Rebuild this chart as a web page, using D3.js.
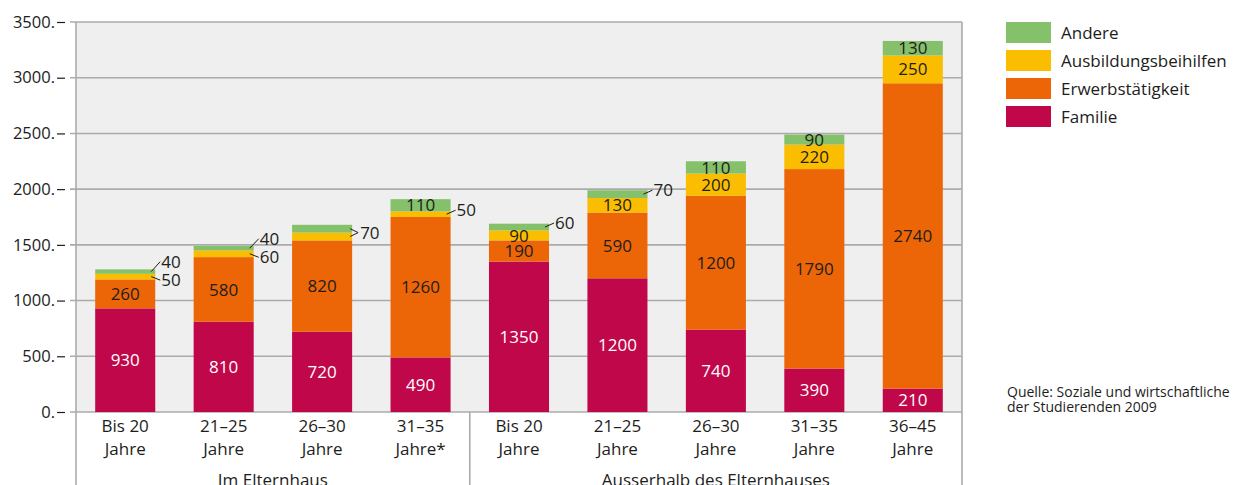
<!DOCTYPE html>
<html><head><meta charset="utf-8">
<script src="https://cdn.jsdelivr.net/npm/d3@7"></script>
<style>html,body{margin:0;padding:0;background:#fff;} svg{display:block;font-family:"Open Sans",sans-serif;}</style>
</head><body>
<svg id="chart" width="1238" height="485"></svg>
<script>
const categories = ["Bis 20|Jahre","21–25|Jahre","26–30|Jahre","31–35|Jahre*","Bis 20|Jahre","21–25|Jahre","26–30|Jahre","31–35|Jahre","36–45|Jahre"];
const groups = ["Im Elternhaus","Ausserhalb des Elternhauses"];
const groupSizes = [4,5];
const seriesNames = ["Familie","Erwerbstätigkeit","Ausbildungsbeihilfen","Andere"];
const familie = [930,810,720,490,1350,1200,740,390,210];
const erwerb = [260,580,820,1260,190,590,1200,1790,2740];
const ausbildung = [50,60,70,50,90,130,200,220,250];
const andere = [40,40,70,110,60,70,110,90,130];
const yTicks = [0,500,1000,1500,2000,2500,3000,3500];
const colors = ["#c0074a","#ec6608","#fbbd00","#85c06a"];
const sourceLines = ["Quelle: Soziale und wirtschaftliche","der Studierenden 2009"];

const svg = d3.select("#chart");
const L = 76, R = 962, T = 22, B = 412;
const x = d3.scaleBand().domain(d3.range(categories.length)).range([L,R]).paddingInner(0.39).paddingOuter(0.195);
const y = d3.scaleLinear().domain([0,3500]).range([B,T]);
const textCol = "#1d1d1b", gridCol = "#ababab";

svg.append("rect").attr("x",L).attr("y",T).attr("width",R-L).attr("height",B-T).attr("fill","#efefef");
// grid
svg.append("g").selectAll("line").data(yTicks).join("line")
  .attr("x1",70).attr("x2",R).attr("y1",d=>y(d)).attr("y2",d=>y(d))
  .attr("stroke",gridCol).attr("stroke-width",1.6);
// tick labels
svg.append("g").selectAll("text").data(yTicks).join("text")
  .attr("x",55).attr("y",d=>y(d)).attr("dy","0.35em").attr("text-anchor","end")
  .attr("font-size",16.5).attr("fill",textCol).text(d=>d+".");
svg.append("g").selectAll("line").data(yTicks).join("line")
  .attr("x1",57).attr("x2",65).attr("y1",d=>y(d)+0.5).attr("y2",d=>y(d)+0.5)
  .attr("stroke",textCol).attr("stroke-width",1.2);

// stacked data
const rows = categories.map((c,i)=>({i, Familie:familie[i], "Erwerbstätigkeit":erwerb[i], "Ausbildungsbeihilfen":ausbildung[i], Andere:andere[i]}));
const stack = d3.stack().keys(seriesNames)(rows);
const gBars = svg.append("g");
stack.forEach((s,k)=>{
  gBars.append("g").attr("fill",colors[k]).selectAll("rect").data(s).join("rect")
    .attr("x",d=>x(d.data.i)).attr("width",x.bandwidth())
    .attr("y",d=>y(d[1])).attr("height",d=>y(d[0])-y(d[1]));
});

// labels
const gLab = svg.append("g").attr("font-size",17);
const thr = 80;
rows.forEach((r,i)=>{
  const cx = x(i)+x.bandwidth()/2, right = x(i)+x.bandwidth();
  const segs = stack.map((s,k)=>({k, v:r[seriesNames[k]], c:(y(s[i][0])+y(s[i][1]))/2}));
  segs.forEach(sg=>{
    if (sg.v >= thr) {
      gLab.append("text").attr("x",cx).attr("y",sg.c).attr("dy","0.36em").attr("text-anchor","middle")
        .attr("fill", sg.k===0 ? "#fff" : textCol).text(sg.v);
    }
  });
  const aus = segs[2], and = segs[3];
  const outs = segs.filter(sg=>sg.k>=2 && sg.v<thr);
  if (outs.length===2 && aus.v===and.v) {
    const my = (aus.c+and.c)/2;
    [and.c, aus.c].forEach(cy=>{
      gLab.append("line").attr("x1",right-2).attr("y1",cy).attr("x2",right+6).attr("y2",my)
        .attr("stroke",textCol).attr("stroke-width",1);
    });
    gLab.append("text").attr("x",right+8).attr("y",my).attr("dy","0.36em").attr("fill",textCol).text(and.v);
  } else if (outs.length===2) {
    const ly2 = aus.c+3.5, ly1 = ly2-18.5;
    [[and,ly1],[aus,ly2]].forEach(([sg,ly])=>{
      gLab.append("line").attr("x1",right-4).attr("y1",sg.c).attr("x2",right+5).attr("y2",ly)
        .attr("stroke",textCol).attr("stroke-width",1);
      gLab.append("text").attr("x",right+6).attr("y",ly).attr("dy","0.36em").attr("fill",textCol).text(sg.v);
    });
  } else if (outs.length===1) {
    const sg = outs[0], ly = sg.c-4;
    gLab.append("line").attr("x1",right-4).attr("y1",sg.c).attr("x2",right+5).attr("y2",ly)
      .attr("stroke",textCol).attr("stroke-width",1);
    gLab.append("text").attr("x",right+6).attr("y",ly).attr("dy","0.36em").attr("fill",textCol).text(sg.v);
  }
});

// frame lines
svg.append("line").attr("x1",L).attr("x2",L).attr("y1",T).attr("y2",485).attr("stroke",gridCol).attr("stroke-width",1.6);
svg.append("line").attr("x1",R).attr("x2",R).attr("y1",T).attr("y2",485).attr("stroke",gridCol).attr("stroke-width",1.6);
let acc = 0;
const divs = [];
groupSizes.forEach((n,gi)=>{
  const x0 = L + acc*x.step(); acc += n; const x1 = L + acc*x.step();
  divs.push(x1);
  svg.append("text").attr("x",(x0+x1)/2).attr("y",486).attr("text-anchor","middle")
    .attr("font-size",17).attr("fill",textCol).text(groups[gi]);
});
svg.append("line").attr("x1",divs[0]).attr("x2",divs[0]).attr("y1",B).attr("y2",485).attr("stroke",gridCol).attr("stroke-width",1.6);

// category labels
const gCat = svg.append("g").attr("font-size",17).attr("fill",textCol).attr("text-anchor","middle");
categories.forEach((c,i)=>{
  const parts = c.split("|");
  gCat.append("text").attr("x",x(i)+x.bandwidth()/2).attr("y",432).text(parts[0]);
  gCat.append("text").attr("x",x(i)+x.bandwidth()/2).attr("y",455).text(parts[1]);
});

// legend
const legOrder = [3,2,1,0];
const gLeg = svg.append("g");
legOrder.forEach((k,j)=>{
  gLeg.append("rect").attr("x",1006).attr("y",22+j*28).attr("width",45).attr("height",21).attr("fill",colors[k]);
  gLeg.append("text").attr("x",1061).attr("y",22+j*28+10.5).attr("dy","0.36em").attr("font-size",17)
    .attr("fill",textCol).text(seriesNames[k]);
});

// source
sourceLines.forEach((t,j)=>{
  svg.append("text").attr("x",1007).attr("y",397+j*14.5).attr("font-size",14).attr("fill",textCol).text(t);
});
</script>
</body></html>
